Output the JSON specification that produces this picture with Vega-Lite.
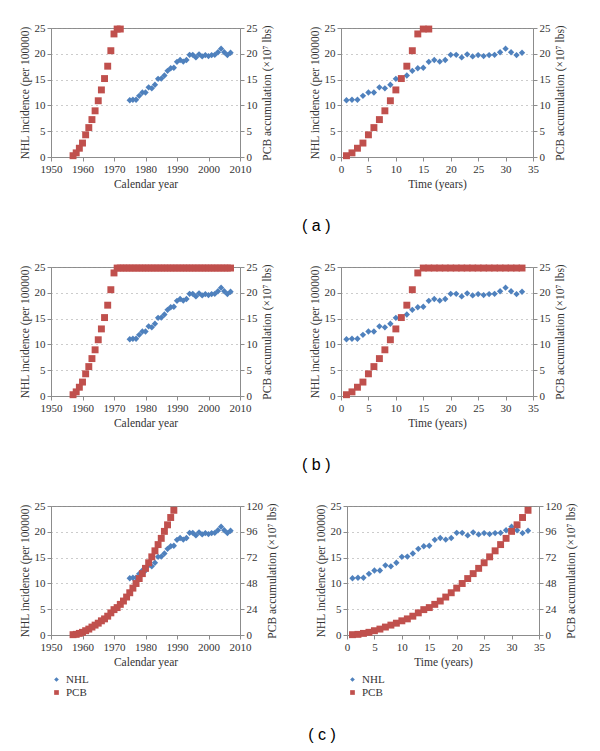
{
  "$schema": "https://vega.github.io/schema/vega-lite/v6.json",
  "padding": {"left": 18, "top": 21, "right": 5, "bottom": 5},
  "background": "white",
  "datasets": {
    "nhl": [
      {"series": "NHL", "time": 1, "year": 1975, "value": 11.0},
      {"series": "NHL", "time": 2, "year": 1976, "value": 11.1},
      {"series": "NHL", "time": 3, "year": 1977, "value": 11.1},
      {"series": "NHL", "time": 4, "year": 1978, "value": 11.85},
      {"series": "NHL", "time": 5, "year": 1979, "value": 12.5},
      {"series": "NHL", "time": 6, "year": 1980, "value": 12.5},
      {"series": "NHL", "time": 7, "year": 1981, "value": 13.5},
      {"series": "NHL", "time": 8, "year": 1982, "value": 13.3},
      {"series": "NHL", "time": 9, "year": 1983, "value": 14.0},
      {"series": "NHL", "time": 10, "year": 1984, "value": 15.15},
      {"series": "NHL", "time": 11, "year": 1985, "value": 15.2},
      {"series": "NHL", "time": 12, "year": 1986, "value": 15.8},
      {"series": "NHL", "time": 13, "year": 1987, "value": 16.7},
      {"series": "NHL", "time": 14, "year": 1988, "value": 17.2},
      {"series": "NHL", "time": 15, "year": 1989, "value": 17.3},
      {"series": "NHL", "time": 16, "year": 1990, "value": 18.45},
      {"series": "NHL", "time": 17, "year": 1991, "value": 18.8},
      {"series": "NHL", "time": 18, "year": 1992, "value": 18.5},
      {"series": "NHL", "time": 19, "year": 1993, "value": 18.8},
      {"series": "NHL", "time": 20, "year": 1994, "value": 19.8},
      {"series": "NHL", "time": 21, "year": 1995, "value": 19.8},
      {"series": "NHL", "time": 22, "year": 1996, "value": 19.3},
      {"series": "NHL", "time": 23, "year": 1997, "value": 19.9},
      {"series": "NHL", "time": 24, "year": 1998, "value": 19.5},
      {"series": "NHL", "time": 25, "year": 1999, "value": 19.75},
      {"series": "NHL", "time": 26, "year": 2000, "value": 19.55},
      {"series": "NHL", "time": 27, "year": 2001, "value": 19.75},
      {"series": "NHL", "time": 28, "year": 2002, "value": 19.8},
      {"series": "NHL", "time": 29, "year": 2003, "value": 20.3},
      {"series": "NHL", "time": 30, "year": 2004, "value": 21.0},
      {"series": "NHL", "time": 31, "year": 2005, "value": 20.3},
      {"series": "NHL", "time": 32, "year": 2006, "value": 19.75},
      {"series": "NHL", "time": 33, "year": 2007, "value": 20.2}
    ],
    "pcbA": [
      {"series": "PCB", "time": 1, "year": 1957, "value": 0.25},
      {"series": "PCB", "time": 2, "year": 1958, "value": 0.8},
      {"series": "PCB", "time": 3, "year": 1959, "value": 1.7},
      {"series": "PCB", "time": 4, "year": 1960, "value": 2.7},
      {"series": "PCB", "time": 5, "year": 1961, "value": 4.3},
      {"series": "PCB", "time": 6, "year": 1962, "value": 5.7},
      {"series": "PCB", "time": 7, "year": 1963, "value": 7.25},
      {"series": "PCB", "time": 8, "year": 1964, "value": 8.95},
      {"series": "PCB", "time": 9, "year": 1965, "value": 10.9},
      {"series": "PCB", "time": 10, "year": 1966, "value": 13.0},
      {"series": "PCB", "time": 11, "year": 1967, "value": 15.2},
      {"series": "PCB", "time": 12, "year": 1968, "value": 17.6},
      {"series": "PCB", "time": 13, "year": 1969, "value": 20.6},
      {"series": "PCB", "time": 14, "year": 1970, "value": 23.85},
      {"series": "PCB", "time": 15, "year": 1971, "value": 24.8},
      {"series": "PCB", "time": 16, "year": 1972, "value": 24.8}
    ],
    "pcbB": [
      {"series": "PCB", "time": 1, "year": 1957, "value": 0.25},
      {"series": "PCB", "time": 2, "year": 1958, "value": 0.8},
      {"series": "PCB", "time": 3, "year": 1959, "value": 1.7},
      {"series": "PCB", "time": 4, "year": 1960, "value": 2.7},
      {"series": "PCB", "time": 5, "year": 1961, "value": 4.3},
      {"series": "PCB", "time": 6, "year": 1962, "value": 5.7},
      {"series": "PCB", "time": 7, "year": 1963, "value": 7.25},
      {"series": "PCB", "time": 8, "year": 1964, "value": 8.95},
      {"series": "PCB", "time": 9, "year": 1965, "value": 10.9},
      {"series": "PCB", "time": 10, "year": 1966, "value": 13.0},
      {"series": "PCB", "time": 11, "year": 1967, "value": 15.2},
      {"series": "PCB", "time": 12, "year": 1968, "value": 17.6},
      {"series": "PCB", "time": 13, "year": 1969, "value": 20.6},
      {"series": "PCB", "time": 14, "year": 1970, "value": 23.85},
      {"series": "PCB", "time": 15, "year": 1971, "value": 24.8},
      {"series": "PCB", "time": 16, "year": 1972, "value": 24.8},
      {"series": "PCB", "time": 17, "year": 1973, "value": 24.8},
      {"series": "PCB", "time": 18, "year": 1974, "value": 24.8},
      {"series": "PCB", "time": 19, "year": 1975, "value": 24.8},
      {"series": "PCB", "time": 20, "year": 1976, "value": 24.8},
      {"series": "PCB", "time": 21, "year": 1977, "value": 24.8},
      {"series": "PCB", "time": 22, "year": 1978, "value": 24.8},
      {"series": "PCB", "time": 23, "year": 1979, "value": 24.8},
      {"series": "PCB", "time": 24, "year": 1980, "value": 24.8},
      {"series": "PCB", "time": 25, "year": 1981, "value": 24.8},
      {"series": "PCB", "time": 26, "year": 1982, "value": 24.8},
      {"series": "PCB", "time": 27, "year": 1983, "value": 24.8},
      {"series": "PCB", "time": 28, "year": 1984, "value": 24.8},
      {"series": "PCB", "time": 29, "year": 1985, "value": 24.8},
      {"series": "PCB", "time": 30, "year": 1986, "value": 24.8},
      {"series": "PCB", "time": 31, "year": 1987, "value": 24.8},
      {"series": "PCB", "time": 32, "year": 1988, "value": 24.8},
      {"series": "PCB", "time": 33, "year": 1989, "value": 24.8},
      {"series": "PCB", "time": 34, "year": 1990, "value": 24.8},
      {"series": "PCB", "time": 35, "year": 1991, "value": 24.8},
      {"series": "PCB", "time": 36, "year": 1992, "value": 24.8},
      {"series": "PCB", "time": 37, "year": 1993, "value": 24.8},
      {"series": "PCB", "time": 38, "year": 1994, "value": 24.8},
      {"series": "PCB", "time": 39, "year": 1995, "value": 24.8},
      {"series": "PCB", "time": 40, "year": 1996, "value": 24.8},
      {"series": "PCB", "time": 41, "year": 1997, "value": 24.8},
      {"series": "PCB", "time": 42, "year": 1998, "value": 24.8},
      {"series": "PCB", "time": 43, "year": 1999, "value": 24.8},
      {"series": "PCB", "time": 44, "year": 2000, "value": 24.8},
      {"series": "PCB", "time": 45, "year": 2001, "value": 24.8},
      {"series": "PCB", "time": 46, "year": 2002, "value": 24.8},
      {"series": "PCB", "time": 47, "year": 2003, "value": 24.8},
      {"series": "PCB", "time": 48, "year": 2004, "value": 24.8},
      {"series": "PCB", "time": 49, "year": 2005, "value": 24.8},
      {"series": "PCB", "time": 50, "year": 2006, "value": 24.8},
      {"series": "PCB", "time": 51, "year": 2007, "value": 24.8}
    ],
    "pcbC": [
      {"series": "PCB", "time": 1, "year": 1957, "value": 0.3},
      {"series": "PCB", "time": 2, "year": 1958, "value": 0.6},
      {"series": "PCB", "time": 3, "year": 1959, "value": 1.5},
      {"series": "PCB", "time": 4, "year": 1960, "value": 2.5},
      {"series": "PCB", "time": 5, "year": 1961, "value": 4.0},
      {"series": "PCB", "time": 6, "year": 1962, "value": 5.5},
      {"series": "PCB", "time": 7, "year": 1963, "value": 7.4},
      {"series": "PCB", "time": 8, "year": 1964, "value": 9.2},
      {"series": "PCB", "time": 9, "year": 1965, "value": 11.0},
      {"series": "PCB", "time": 10, "year": 1966, "value": 13.2},
      {"series": "PCB", "time": 11, "year": 1967, "value": 15.0},
      {"series": "PCB", "time": 12, "year": 1968, "value": 17.5},
      {"series": "PCB", "time": 13, "year": 1969, "value": 20.6},
      {"series": "PCB", "time": 14, "year": 1970, "value": 23.6},
      {"series": "PCB", "time": 15, "year": 1971, "value": 25.5},
      {"series": "PCB", "time": 16, "year": 1972, "value": 28.5},
      {"series": "PCB", "time": 17, "year": 1973, "value": 31.6},
      {"series": "PCB", "time": 18, "year": 1974, "value": 35.3},
      {"series": "PCB", "time": 19, "year": 1975, "value": 39.3},
      {"series": "PCB", "time": 20, "year": 1976, "value": 43.6},
      {"series": "PCB", "time": 21, "year": 1977, "value": 47.9},
      {"series": "PCB", "time": 22, "year": 1978, "value": 52.5},
      {"series": "PCB", "time": 23, "year": 1979, "value": 57.1},
      {"series": "PCB", "time": 24, "year": 1980, "value": 62.0},
      {"series": "PCB", "time": 25, "year": 1981, "value": 67.2},
      {"series": "PCB", "time": 26, "year": 1982, "value": 72.7},
      {"series": "PCB", "time": 27, "year": 1983, "value": 78.3},
      {"series": "PCB", "time": 28, "year": 1984, "value": 84.1},
      {"series": "PCB", "time": 29, "year": 1985, "value": 89.9},
      {"series": "PCB", "time": 30, "year": 1986, "value": 96.4},
      {"series": "PCB", "time": 31, "year": 1987, "value": 102.5},
      {"series": "PCB", "time": 32, "year": 1988, "value": 109.3},
      {"series": "PCB", "time": 33, "year": 1989, "value": 116.0}
    ]
  },
  "vconcat": [
    {
      "title": {"text": "( a )", "orient": "bottom", "anchor": "middle", "offset": 28, "dx": 24},
      "spacing": 35,
      "hconcat": [
        {
          "width": 189, "height": 129,
          "layer": [
            {"data": {"name": "nhl"}, "mark": {"type": "point", "filled": true, "opacity": 1, "size": 40},
             "encoding": {
               "x": {"field": "year", "type": "quantitative", "scale": {"domain": [1950, 2010], "nice": false}, "axis": {"title": "Calendar year", "values": [1950, 1960, 1970, 1980, 1990, 2000, 2010], "format": "d", "labelOverlap": false}},
               "y": {"field": "value", "type": "quantitative", "scale": {"domain": [0, 25], "nice": false}, "axis": {"orient": "left", "title": "NHL incidence (per 100000)", "values": [0, 5, 10, 15, 20, 25], "grid": true}},
               "color": {"field": "series", "type": "nominal", "scale": {"domain": ["NHL", "PCB"], "range": ["#4F81BD", "#C0504D"]}, "legend": null},
               "shape": {"field": "series", "type": "nominal", "scale": {"domain": ["NHL", "PCB"], "range": ["diamond", "square"]}, "legend": null}
             }},
            {"data": {"name": "pcbA"}, "mark": {"type": "point", "filled": true, "opacity": 1, "size": 48},
             "encoding": {
               "x": {"field": "year", "type": "quantitative", "scale": {"domain": [1950, 2010], "nice": false}, "axis": {"title": "Calendar year", "values": [1950, 1960, 1970, 1980, 1990, 2000, 2010], "format": "d", "labelOverlap": false}},
               "y": {"field": "value", "type": "quantitative", "scale": {"domain": [0, 25], "nice": false}, "axis": {"orient": "right", "title": "PCB accumulation (×10⁷ lbs)", "values": [0, 5, 10, 15, 20, 25], "titleAngle": 270, "titleBaseline": "top"}},
               "color": {"field": "series", "type": "nominal", "legend": null},
               "shape": {"field": "series", "type": "nominal", "legend": null}
             }}
          ],
          "resolve": {"scale": {"y": "independent"}}
        },
        {
          "width": 192, "height": 129,
          "layer": [
            {"data": {"name": "nhl"}, "mark": {"type": "point", "filled": true, "opacity": 1, "size": 40},
             "encoding": {
               "x": {"field": "time", "type": "quantitative", "scale": {"domain": [0, 35], "nice": false}, "axis": {"title": "Time (years)", "values": [0, 5, 10, 15, 20, 25, 30, 35], "labelOverlap": false}},
               "y": {"field": "value", "type": "quantitative", "scale": {"domain": [0, 25], "nice": false}, "axis": {"orient": "left", "title": "NHL incidence (per 100000)", "values": [0, 5, 10, 15, 20, 25], "grid": true}},
               "color": {"field": "series", "type": "nominal", "scale": {"domain": ["NHL", "PCB"], "range": ["#4F81BD", "#C0504D"]}, "legend": null},
               "shape": {"field": "series", "type": "nominal", "scale": {"domain": ["NHL", "PCB"], "range": ["diamond", "square"]}, "legend": null}
             }},
            {"data": {"name": "pcbA"}, "mark": {"type": "point", "filled": true, "opacity": 1, "size": 48},
             "encoding": {
               "x": {"field": "time", "type": "quantitative", "scale": {"domain": [0, 35], "nice": false}, "axis": {"title": "Time (years)", "values": [0, 5, 10, 15, 20, 25, 30, 35], "labelOverlap": false}},
               "y": {"field": "value", "type": "quantitative", "scale": {"domain": [0, 25], "nice": false}, "axis": {"orient": "right", "title": "PCB accumulation (×10⁷ lbs)", "values": [0, 5, 10, 15, 20, 25], "titleAngle": 270, "titleBaseline": "top"}},
               "color": {"field": "series", "type": "nominal", "legend": null},
               "shape": {"field": "series", "type": "nominal", "legend": null}
             }}
          ],
          "resolve": {"scale": {"y": "independent"}}
        }
      ]
    },
    {
      "title": {"text": "( b )", "orient": "bottom", "anchor": "middle", "offset": 28, "dx": 24},
      "spacing": 35,
      "hconcat": [
        {
          "width": 189, "height": 129,
          "layer": [
            {"data": {"name": "nhl"}, "mark": {"type": "point", "filled": true, "opacity": 1, "size": 40},
             "encoding": {
               "x": {"field": "year", "type": "quantitative", "scale": {"domain": [1950, 2010], "nice": false}, "axis": {"title": "Calendar year", "values": [1950, 1960, 1970, 1980, 1990, 2000, 2010], "format": "d", "labelOverlap": false}},
               "y": {"field": "value", "type": "quantitative", "scale": {"domain": [0, 25], "nice": false}, "axis": {"orient": "left", "title": "NHL incidence (per 100000)", "values": [0, 5, 10, 15, 20, 25], "grid": true}},
               "color": {"field": "series", "type": "nominal", "scale": {"domain": ["NHL", "PCB"], "range": ["#4F81BD", "#C0504D"]}, "legend": null},
               "shape": {"field": "series", "type": "nominal", "scale": {"domain": ["NHL", "PCB"], "range": ["diamond", "square"]}, "legend": null}
             }},
            {"data": {"name": "pcbB"}, "mark": {"type": "point", "filled": true, "opacity": 1, "size": 48},
             "encoding": {
               "x": {"field": "year", "type": "quantitative", "scale": {"domain": [1950, 2010], "nice": false}, "axis": {"title": "Calendar year", "values": [1950, 1960, 1970, 1980, 1990, 2000, 2010], "format": "d", "labelOverlap": false}},
               "y": {"field": "value", "type": "quantitative", "scale": {"domain": [0, 25], "nice": false}, "axis": {"orient": "right", "title": "PCB accumulation (×10⁷ lbs)", "values": [0, 5, 10, 15, 20, 25], "titleAngle": 270, "titleBaseline": "top"}},
               "color": {"field": "series", "type": "nominal", "legend": null},
               "shape": {"field": "series", "type": "nominal", "legend": null}
             }}
          ],
          "resolve": {"scale": {"y": "independent"}}
        },
        {
          "width": 192, "height": 129,
          "layer": [
            {"data": {"name": "nhl"}, "mark": {"type": "point", "filled": true, "opacity": 1, "size": 40},
             "encoding": {
               "x": {"field": "time", "type": "quantitative", "scale": {"domain": [0, 35], "nice": false}, "axis": {"title": "Time (years)", "values": [0, 5, 10, 15, 20, 25, 30, 35], "labelOverlap": false}},
               "y": {"field": "value", "type": "quantitative", "scale": {"domain": [0, 25], "nice": false}, "axis": {"orient": "left", "title": "NHL incidence (per 100000)", "values": [0, 5, 10, 15, 20, 25], "grid": true}},
               "color": {"field": "series", "type": "nominal", "scale": {"domain": ["NHL", "PCB"], "range": ["#4F81BD", "#C0504D"]}, "legend": null},
               "shape": {"field": "series", "type": "nominal", "scale": {"domain": ["NHL", "PCB"], "range": ["diamond", "square"]}, "legend": null}
             }},
            {"data": {"name": "pcbB"}, "transform": [{"filter": "datum.time <= 33"}], "mark": {"type": "point", "filled": true, "opacity": 1, "size": 48},
             "encoding": {
               "x": {"field": "time", "type": "quantitative", "scale": {"domain": [0, 35], "nice": false}, "axis": {"title": "Time (years)", "values": [0, 5, 10, 15, 20, 25, 30, 35], "labelOverlap": false}},
               "y": {"field": "value", "type": "quantitative", "scale": {"domain": [0, 25], "nice": false}, "axis": {"orient": "right", "title": "PCB accumulation (×10⁷ lbs)", "values": [0, 5, 10, 15, 20, 25], "titleAngle": 270, "titleBaseline": "top"}},
               "color": {"field": "series", "type": "nominal", "legend": null},
               "shape": {"field": "series", "type": "nominal", "legend": null}
             }}
          ],
          "resolve": {"scale": {"y": "independent"}}
        }
      ]
    },
    {
      "title": {"text": "( c )", "orient": "bottom", "anchor": "middle", "offset": 28, "dx": 24},
      "spacing": 35,
      "resolve": {"scale": {"color": "independent", "shape": "independent"}, "legend": {"color": "independent", "shape": "independent"}},
      "hconcat": [
        {
          "width": 189, "height": 129,
          "layer": [
            {"data": {"name": "nhl"}, "mark": {"type": "point", "filled": true, "opacity": 1, "size": 40},
             "encoding": {
               "x": {"field": "year", "type": "quantitative", "scale": {"domain": [1950, 2010], "nice": false}, "axis": {"title": "Calendar year", "values": [1950, 1960, 1970, 1980, 1990, 2000, 2010], "format": "d", "labelOverlap": false}},
               "y": {"field": "value", "type": "quantitative", "scale": {"domain": [0, 25], "nice": false}, "axis": {"orient": "left", "title": "NHL incidence (per 100000)", "values": [0, 5, 10, 15, 20, 25], "grid": true}},
               "color": {"field": "series", "type": "nominal", "scale": {"domain": ["NHL", "PCB"], "range": ["#4F81BD", "#C0504D"]}, "legend": {"title": null}},
               "shape": {"field": "series", "type": "nominal", "scale": {"domain": ["NHL", "PCB"], "range": ["diamond", "square"]}, "legend": {"title": null}}
             }},
            {"data": {"name": "pcbC"}, "mark": {"type": "point", "filled": true, "opacity": 1, "size": 48},
             "encoding": {
               "x": {"field": "year", "type": "quantitative", "scale": {"domain": [1950, 2010], "nice": false}, "axis": {"title": "Calendar year", "values": [1950, 1960, 1970, 1980, 1990, 2000, 2010], "format": "d", "labelOverlap": false}},
               "y": {"field": "value", "type": "quantitative", "scale": {"domain": [0, 120], "nice": false}, "axis": {"orient": "right", "title": "PCB accumulation (×10⁷ lbs)", "values": [0, 24, 48, 72, 96, 120], "titleAngle": 270, "titleBaseline": "top"}},
               "color": {"field": "series", "type": "nominal", "legend": {"title": null}},
               "shape": {"field": "series", "type": "nominal", "legend": {"title": null}}
             }}
          ],
          "resolve": {"scale": {"y": "independent"}}
        },
        {
          "width": 192, "height": 129,
          "layer": [
            {"data": {"name": "nhl"}, "mark": {"type": "point", "filled": true, "opacity": 1, "size": 40},
             "encoding": {
               "x": {"field": "time", "type": "quantitative", "scale": {"domain": [0, 35], "nice": false}, "axis": {"title": "Time (years)", "values": [0, 5, 10, 15, 20, 25, 30, 35], "labelOverlap": false}},
               "y": {"field": "value", "type": "quantitative", "scale": {"domain": [0, 25], "nice": false}, "axis": {"orient": "left", "title": "NHL incidence (per 100000)", "values": [0, 5, 10, 15, 20, 25], "grid": true}},
               "color": {"field": "series", "type": "nominal", "scale": {"domain": ["NHL", "PCB"], "range": ["#4F81BD", "#C0504D"]}, "legend": {"title": null}},
               "shape": {"field": "series", "type": "nominal", "scale": {"domain": ["NHL", "PCB"], "range": ["diamond", "square"]}, "legend": {"title": null}}
             }},
            {"data": {"name": "pcbC"}, "mark": {"type": "point", "filled": true, "opacity": 1, "size": 48},
             "encoding": {
               "x": {"field": "time", "type": "quantitative", "scale": {"domain": [0, 35], "nice": false}, "axis": {"title": "Time (years)", "values": [0, 5, 10, 15, 20, 25, 30, 35], "labelOverlap": false}},
               "y": {"field": "value", "type": "quantitative", "scale": {"domain": [0, 120], "nice": false}, "axis": {"orient": "right", "title": "PCB accumulation (×10⁷ lbs)", "values": [0, 24, 48, 72, 96, 120], "titleAngle": 270, "titleBaseline": "top"}},
               "color": {"field": "series", "type": "nominal", "legend": {"title": null}},
               "shape": {"field": "series", "type": "nominal", "legend": {"title": null}}
             }}
          ],
          "resolve": {"scale": {"y": "independent"}}
        }
      ]
    }
  ],
  "spacing": 26,
  "resolve": {"scale": {"color": "independent", "shape": "independent"}},
  "config": {
    "font": "Liberation Serif",
    "view": {"stroke": "#8c8c8c", "strokeWidth": 1},
    "axis": {
      "labelFont": "Liberation Serif", "labelFontSize": 11, "labelColor": "#333",
      "titleFont": "Liberation Serif", "titleFontSize": 11.5, "titleFontWeight": "normal", "titleColor": "#333",
      "domainColor": "#8c8c8c", "tickColor": "#8c8c8c", "tickSize": 4, "labelPadding": 2, "titlePadding": 4,
      "labelOverlap": false, "labelFlush": false, "labelBound": false,
      "grid": false, "gridColor": "#999", "gridDash": [1, 4]
    },
    "axisX": {"labelOverlap": false, "labelSeparation": 0},
    "legend": {
      "orient": "bottom", "direction": "vertical", "offset": 6, "padding": 0,
      "labelFont": "Liberation Serif", "labelFontSize": 11, "labelColor": "#333",
      "symbolSize": 22, "symbolType": "square", "rowPadding": 1, "symbolStrokeWidth": 0
    },
    "title": {"font": "Liberation Sans", "fontSize": 16, "fontWeight": "normal", "color": "#000"}
  }
}
